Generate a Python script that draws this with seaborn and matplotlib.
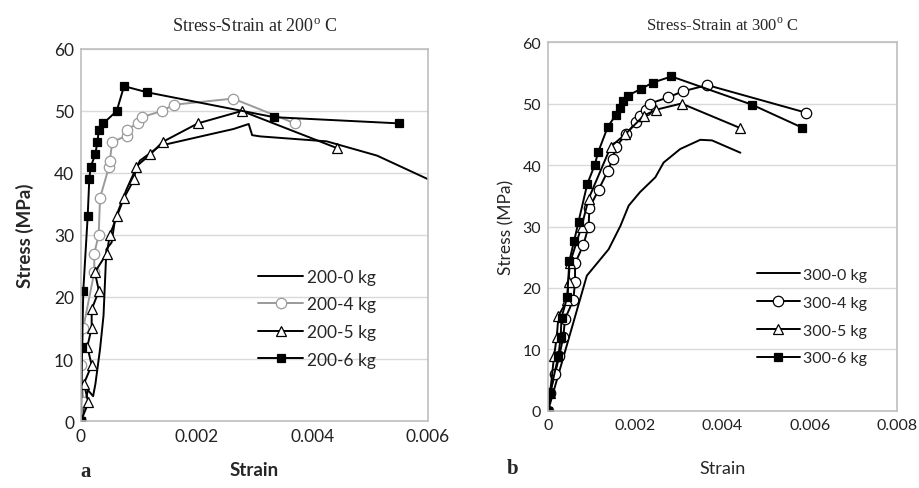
import matplotlib
matplotlib.use('Agg')
import matplotlib.pyplot as plt
import seaborn as sns
import pandas as pd

# ---- 200 C panel (a) ----
s200_0_x = [0, 0.00012, 0.00021, 0.00025, 0.00033, 0.00039, 0.00044, 0.00053, 0.00059, 0.00079,
            0.00092, 0.00102, 0.00137, 0.00212, 0.00264, 0.0029, 0.00296, 0.0031, 0.00425, 0.00512, 0.006]
s200_0_y = [0, 5, 4, 6, 11.6, 17, 27.7, 28.8, 32.6, 37.4,
            40.1, 42, 44.4, 46, 47.1, 47.9, 46.1, 45.9, 45.1, 42.8, 39]

s200_4_x = [0, 0.00004, 0, 0.00004, 0.00023, 0.00023, 0.000306, 0.00033, 0.000485, 0.0005, 0.00054,
            0.00079, 0.00079, 0.00098, 0.00105, 0.0014, 0.0016, 0.00263, 0.0037]
s200_4_y = [0, 3, 9, 15, 24, 27, 30, 36, 41, 42, 45,
            46, 47, 48, 49, 50, 51, 52, 48]

s200_5_x = [0, 0.00013, 0.00005, 0.000185, 0.00011, 0.000185, 0.000185, 0.00031, 0.00024, 0.000445,
            0.0005, 0.00062, 0.000745, 0.00092, 0.00095, 0.0012, 0.00141, 0.00202, 0.00278, 0.00443]
s200_5_y = [0, 3, 6, 9, 12, 15, 18, 21, 24, 27,
            30, 33, 36, 39, 41, 43, 45, 48, 50, 44]

s200_6_x = [0, 0.00002, 0.00004, 0.000116, 0.000144, 0.000168, 0.000248, 0.000283, 0.000312, 0.000387,
            0.000618, 0.000745, 0.00115, 0.00334, 0.0055]
s200_6_y = [0, 12, 21, 33, 39, 41, 43, 45, 47, 48,
            50, 54, 53, 49, 48]

# ---- 300 C panel (b) ----
s300_0_x = [0, 0.00012, 0.00089, 0.00139, 0.00166, 0.00185, 0.00211, 0.00246, 0.00265, 0.00303,
            0.00349, 0.00376, 0.00441]
s300_0_y = [0, 3, 22, 26.3, 30.1, 33.4, 35.6, 38, 40.4, 42.6,
            44.1, 44, 42]

s300_4_x = [0, 0.00005, 0.00016, 0.00026, 0.00035, 0.00039, 0.00058, 0.00062, 0.00062, 0.00081,
            0.00093, 0.00095, 0.00116, 0.00137, 0.00148, 0.00156, 0.00179, 0.00202, 0.0021, 0.00224,
            0.00234, 0.00275, 0.0031, 0.00365, 0.00592]
s300_4_y = [0, 3, 6, 9, 12, 15, 18, 21, 24, 27,
            30, 33, 36, 39, 41, 43, 45, 47, 48, 49,
            50, 51, 52, 53, 48.5]

s300_5_x = [0, 0.00005, 0.00014, 0.0002, 0.00024, 0.00044, 0.00047, 0.0005, 0.00077, 0.00093,
            0.00144, 0.00177, 0.00219, 0.00248, 0.00306, 0.00441]
s300_5_y = [0, 3, 9, 12, 15.5, 18, 21, 24, 30, 34.5,
            43, 45, 48, 49, 50, 46]

s300_6_x = [0, 0.00005, 0.00024, 0.00029, 0.00031, 0.00044, 0.00049, 0.0006, 0.0007, 0.0009,
            0.00107, 0.00115, 0.00137, 0.00156, 0.00164, 0.00173, 0.00183, 0.00214, 0.0024, 0.00283,
            0.00468, 0.00582]
s300_6_y = [0, 3, 9, 12, 15.2, 18.5, 24.4, 27.7, 30.8, 36.9,
            40, 42.1, 46.2, 48.2, 49.3, 50.4, 51.3, 52.4, 53.4, 54.4,
            49.8, 46.1]

sns.set_style('white')
plt.rcParams['font.family'] = ['Lato', 'DejaVu Sans']
plt.rcParams['mathtext.fontset'] = 'custom'
plt.rcParams['mathtext.rm'] = 'Liberation Serif'

fig = plt.figure(figsize=(9.19, 4.89), dpi=100)
ax1 = fig.add_axes([0.0881, 0.137, 0.3776, 0.7608])
ax2 = fig.add_axes([0.5963, 0.1575, 0.3798, 0.7545])


def draw(ax, x, y, label, color, marker, mfc, ms):
    df = pd.DataFrame({'Strain': x, 'Stress': y})
    sns.lineplot(data=df, x='Strain', y='Stress', ax=ax, sort=False, estimator=None,
                 color=color, lw=1.4, marker=marker, markersize=ms,
                 markerfacecolor=mfc, markeredgecolor=color, markeredgewidth=0.9,
                 label=label)


draw(ax1, s200_0_x, s200_0_y, '200-0 kg', 'black', None, 'none', 0)
draw(ax1, s200_4_x, s200_4_y, '200-4 kg', '#9a9a9a', 'o', 'white', 7.5)
draw(ax1, s200_5_x, s200_5_y, '200-5 kg', 'black', '^', 'white', 7.5)
draw(ax1, s200_6_x, s200_6_y, '200-6 kg', 'black', 's', 'black', 5.5)

draw(ax2, s300_0_x, s300_0_y, '300-0 kg', 'black', None, 'none', 0)
draw(ax2, s300_4_x, s300_4_y, '300-4 kg', 'black', 'o', 'white', 7.5)
draw(ax2, s300_5_x, s300_5_y, '300-5 kg', 'black', '^', 'white', 7.5)
draw(ax2, s300_6_x, s300_6_y, '300-6 kg', 'black', 's', 'black', 5.5)

for ax, xmax, xticks, fs in [(ax1, 0.006, [0, 0.002, 0.004, 0.006], 12.5),
                             (ax2, 0.008, [0, 0.002, 0.004, 0.006, 0.008], 11.5)]:
    ax.set_xlim(0, xmax)
    ax.set_ylim(0, 60)
    ax.set_xticks(xticks)
    ax.set_xticklabels(['0' if t == 0 else '%g' % t for t in xticks])
    ax.set_yticks(range(0, 61, 10))
    ax.tick_params(labelsize=fs, length=0, pad=5, colors='#222222')
    ax.grid(axis='y', color='#d9d9d9', lw=1)
    ax.set_axisbelow(True)
    for sp in ax.spines.values():
        sp.set_color('#bfbfbf')
        sp.set_linewidth(1.2)

ax1.set_xlabel('Strain', fontsize=13.5, fontweight='bold', labelpad=12)
ax1.set_ylabel('Stress (MPa)', fontsize=13.5, fontweight='bold', labelpad=14)
ax2.set_xlabel('Strain', fontsize=13, labelpad=20)
ax2.set_ylabel('Stress (MPa)', fontsize=12.5, labelpad=6)

ax1.set_title('Stress-Strain at 200$^\\mathrm{o}$ C', fontsize=13, family='Liberation Serif', pad=13)
ax2.set_title('Stress-Strain at 300$^\\mathrm{o}$ C', fontsize=12, family='Liberation Serif', pad=9)

leg1 = ax1.legend(loc='lower left', bbox_to_anchor=(0.49, 0.125), frameon=False, fontsize=12.5,
                  handlelength=2.6, handletextpad=0.2, labelspacing=0.67, borderaxespad=0)
leg2 = ax2.legend(loc='lower left', bbox_to_anchor=(0.58, 0.106), frameon=False, fontsize=11.5,
                  handlelength=2.7, handletextpad=0.2, labelspacing=0.86, borderaxespad=0)

fig.text(0.087, 0.025, 'a', fontsize=15, fontweight='bold', family='Liberation Serif')
fig.text(0.551, 0.03, 'b', fontsize=15, fontweight='bold', family='Liberation Serif')

fig.savefig('out.png', dpi=100)
